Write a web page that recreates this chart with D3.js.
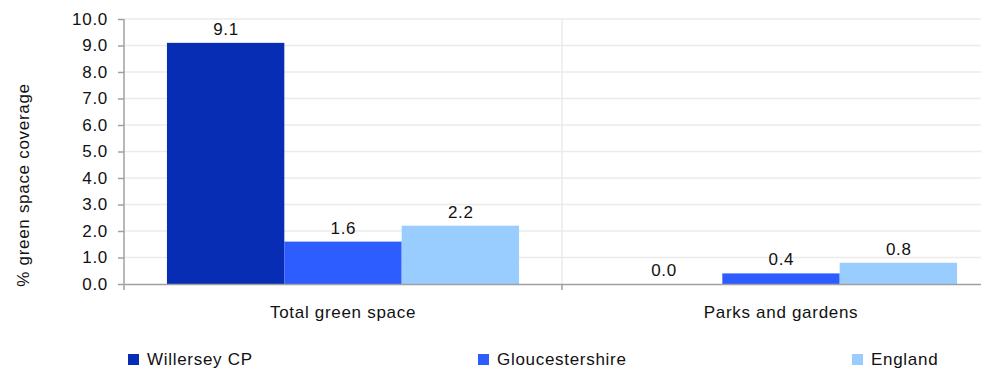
<!DOCTYPE html>
<html><head><meta charset="utf-8">
<script src="https://cdn.jsdelivr.net/npm/d3@7"></script>
<style>body{margin:0;background:#fff}svg{display:block;font-family:"Liberation Sans",Arial,sans-serif}svg text{letter-spacing:0.7px}</style>
</head><body><svg id="c" width="981" height="368"></svg>
<script>
const categories = ["Total green space", "Parks and gardens"];
const seriesNames = ["Willersey CP", "Gloucestershire", "England"];
const willersey = [9.1, 0.0];
const gloucestershire = [1.6, 0.4];
const england = [2.2, 0.8];
const yTicks = [0,1,2,3,4,5,6,7,8,9,10];
const colors = ["#072db4", "#2d5cff", "#99ccff"];
const seriesValues = [willersey, gloucestershire, england];

(function(){
const svg = d3.select("#c");
const FS = 17;
const mLeft = 124, mRight = 1000, mTop = 19, mBottom = 284;
const x0 = d3.scaleBand().domain(categories).range([mLeft, mRight]).paddingInner(0).paddingOuter(0);
const x1 = d3.scaleBand().domain(seriesNames).range([0, x0.bandwidth()]).paddingInner(0).paddingOuter(0.366);
const y = d3.scaleLinear().domain([0, 10]).range([mBottom, mTop]);

// gridlines
svg.append("g").selectAll("line").data(yTicks.slice(1)).join("line")
  .attr("x1", mLeft).attr("x2", mRight).attr("y1", d => y(d)).attr("y2", d => y(d))
  .attr("stroke", "#ebebeb").attr("stroke-width", 1.5);
svg.append("line").attr("x1", mLeft + x0.bandwidth()).attr("x2", mLeft + x0.bandwidth())
  .attr("y1", mTop).attr("y2", mBottom).attr("stroke", "#ebebeb").attr("stroke-width", 1.5);

// bars
categories.forEach((c, ci) => {
  seriesNames.forEach((s, si) => {
    const v = seriesValues[si][ci];
    svg.append("rect").attr("x", x0(c) + x1(s)).attr("width", x1.bandwidth())
      .attr("y", y(v)).attr("height", mBottom - y(v)).attr("fill", colors[si]);
    svg.append("text").attr("x", x0(c) + x1(s) + x1.bandwidth() / 2 + 0.4).attr("y", y(v) - 8)
      .attr("text-anchor", "middle").attr("font-size", FS).attr("fill", "#111").text(v.toFixed(1));
  });
});

// y axis
const yAxis = d3.axisLeft(y).tickValues(yTicks).tickFormat(d3.format(".1f")).tickSize(6).tickPadding(10);
const gy = svg.append("g").attr("transform", `translate(${mLeft},0)`).call(yAxis);
gy.select(".domain").attr("stroke", "#a0a0a0").attr("stroke-width", 1.5).attr("d", `M0,${mTop}V${mBottom}`);
gy.selectAll(".tick line").attr("stroke", "#a0a0a0").attr("stroke-width", 1.5);
gy.selectAll(".tick text").attr("font-size", FS).attr("fill", "#111").attr("font-family", "Liberation Sans, Arial, sans-serif");

// x axis
const xAxis = d3.axisBottom(x0).tickSize(0).tickPadding(22);
const gx = svg.append("g").attr("transform", `translate(0,${mBottom})`).call(xAxis);
gx.select(".domain").attr("stroke", "#a0a0a0").attr("stroke-width", 1.5);
gx.selectAll(".tick text").attr("font-size", FS).attr("fill", "#111").attr("font-family", "Liberation Sans, Arial, sans-serif");
[mLeft, mLeft + x0.bandwidth()].forEach(px => {
  svg.append("line").attr("x1", px).attr("x2", px).attr("y1", mBottom).attr("y2", mBottom + 6)
    .attr("stroke", "#a0a0a0").attr("stroke-width", 1.5);
});

// y title
svg.append("text").attr("transform", "translate(29,185) rotate(-90)").attr("text-anchor", "middle")
  .attr("font-size", FS).attr("fill", "#111").text("% green space coverage");

// legend
const legendX = [128, 478, 852];
seriesNames.forEach((s, i) => {
  svg.append("rect").attr("x", legendX[i]).attr("y", 354).attr("width", 11).attr("height", 11).attr("fill", colors[i]);
  svg.append("text").attr("x", legendX[i] + 19).attr("y", 365).attr("font-size", FS).attr("fill", "#111").text(s);
});
})();
</script></body></html>
